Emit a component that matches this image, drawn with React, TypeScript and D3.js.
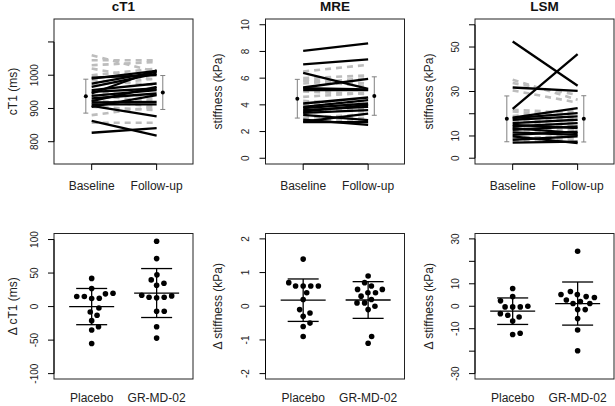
import * as d3 from 'd3'

const FONT = '"Liberation Sans", Arial, Helvetica, sans-serif'

const timepoints = ['Baseline', 'Follow-up']
const groups = ['Placebo', 'GR-MD-02']

// cT1 (ms), one entry per subject
const ct1DrugBase = [993, 990, 975, 965, 955, 950, 945, 938, 930, 922, 918, 912, 908, 863, 827, 905]
const ct1DrugFollow = [1000, 1013, 1010, 1005, 975, 960, 1015, 955, 945, 965, 920, 912, 876, 818, 841, 940]
const ct1PlcBase = [1060, 1045, 1030, 1020, 1000, 985, 970, 950, 940, 925, 915, 905, 857, 880]
const ct1PlcFollow = [1010, 1045, 1040, 985, 1020, 970, 990, 935, 920, 905, 930, 895, 857, 905]
const ct1Mean = [937, 948]
const ct1Sd = [51, 51]

// MRE stiffness (kPa)
const mreDrugBase = [8.05, 7.03, 6.4, 5.3, 5.25, 5.1, 4.1, 3.85, 3.75, 3.6, 3.4, 3.25, 2.9, 2.75, 2.7, 3.5]
const mreDrugFollow = [8.6, 7.4, 5.2, 5.95, 5.15, 5.1, 4.55, 4.35, 4.1, 3.85, 3.6, 2.85, 2.5, 3.35, 2.7, 4.0]
const mrePlcBase = [6.5, 6.0, 5.8, 5.6, 5.0, 4.6, 4.3, 4.0, 3.7, 3.4, 3.2, 3.0, 2.8, 5.9]
const mrePlcFollow = [7.0, 6.2, 5.4, 6.0, 4.8, 4.9, 4.0, 4.3, 3.5, 3.7, 3.0, 3.3, 2.9, 5.6]
const mreMean = [4.46, 4.66]
const mreSd = [1.45, 1.44]

// LSM stiffness (kPa)
const lsmDrugBase = [52.5, 22.2, 31.8, 18.3, 18, 17.3, 15.8, 15, 14.3, 13.5, 12.8, 11.6, 10.5, 9.8, 8.3, 7]
const lsmDrugFollow = [32.6, 46.8, 30.3, 22.5, 20.3, 18.8, 17.3, 13.5, 15.8, 11.3, 14.3, 10.5, 12, 6.8, 9.8, 7.5]
const lsmPlcBase = [35.3, 33.8, 21.8, 21, 19, 16, 14, 12.5, 11, 9.5, 8.5, 7.5, 17, 30.5]
const lsmPlcFollow = [26.3, 28.5, 20.3, 18.5, 21.5, 18, 16, 13, 12.5, 9, 10.5, 8.5, 14, 25]
const lsmMean = [17.7, 17.7]
const lsmSd = [10.3, 10.4]

// change from baseline
const dCt1Plc = [42, 27, 15, 15, 12, 12.4, 19, 20, -2, -8, -13, -21, -30, -35, -55]
const dCt1Drug = [97.5, 71.6, 47.3, 39.8, 34.8, 31.8, 15.9, 13.9, 13, 13.9, 17, -7, -7, -30, -47]
const dCt1Mean = [0, 20.2]
const dCt1Sd = [27, 36.5]

const dMrePlc = [1.4, 0.6, 0.6, 0.6, 0.6, 0.7, 0.4, 0.2, -0.1, -0.2, -0.3, -0.5, -0.6, -0.9]
const dMreDrug = [0.9, 0.7, 0.6, 0.5, 0.5, 0.4, 0.4, 0.3, 0.2, 0.1, 0.1, 0.0, -0.1, -0.9, -1.1]
const dMreMean = [0.18, 0.185]
const dMreSd = [0.63, 0.545]

const dLsmPlc = [7.9, 4.3, 2.4, -0.3, -0.3, -0.3, 0, -3.3, -4.0, -4.8, -6.6, -12.6, -12]
const dLsmDrug = [24.5, 5.2, 6.6, 5.2, 4.3, 3.9, 2.8, 1.2, 2.1, 1.2, -1.5, -1.5, -5.5, -10.6, -19.8]
const dLsmMean = [-2.2, 1.2]
const dLsmSd = [5.9, 9.6]

const BOX_W = 139
const COL_X = [54, 265.5, 475]
const LABEL_OFF = [-41.5, -48, -46.5]
const TOP_ROW = [19, 164]
const BOT_ROW = [233.5, 379]

function YAxis({ x0, y, ticks, labels, label, labelX }) {
  const [y1, y2] = d3.extent(ticks.map((t) => y(t)))
  const mid = (y.range()[0] + y.range()[1]) / 2
  return (
    <g>
      <line x1={x0} x2={x0} y1={y1} y2={y2} stroke="#000" />
      {ticks.map((t, i) => (
        <g key={t}>
          <line x1={x0 - 6} x2={x0} y1={y(t)} y2={y(t)} stroke="#000" />
          {labels[i] !== '' && (
            <text
              transform={`translate(${x0 - 20},${y(t)}) rotate(-90)`}
              textAnchor="middle"
              dy="0.35em"
              fontSize={10}
              fill="#222"
            >
              {labels[i]}
            </text>
          )}
        </g>
      ))}
      <text
        transform={`translate(${labelX},${mid}) rotate(-90)`}
        textAnchor="middle"
        dy="0.35em"
        fontSize={12}
        fill="#222"
      >
        {label}
      </text>
    </g>
  )
}

function PairPanel({ col, title, yLabel, domain, ticks, labels, drugBase, drugFollow, plcBase, plcFollow, mean, sd }) {
  const x0 = COL_X[col]
  const [top, bottom] = TOP_ROW
  const x = d3.scaleLinear().domain([0.42, 2.56]).range([x0, x0 + BOX_W])
  const y = d3.scaleLinear().domain(domain).range([bottom, top])
  const line = d3
    .line<number>()
    .x((_, i) => x(i + 1))
    .y((v) => y(v))
  const barX = [1 - 0.09, 2 + 0.095]

  return (
    <g>
      <text x={x0 + BOX_W / 2} y={11} textAnchor="middle" fontSize={13.5} fontWeight="bold" fill="#111">
        {title}
      </text>
      {plcBase.map((b, i) => (
        <path
          key={'p' + i}
          d={line([b, plcFollow[i]])}
          fill="none"
          stroke="#bdbdbd"
          strokeWidth={2.6}
          strokeDasharray="6 5"
        />
      ))}
      {drugBase.map((b, i) => (
        <path key={'d' + i} d={line([b, drugFollow[i]])} fill="none" stroke="#000" strokeWidth={2.3} />
      ))}
      {mean.map((m, i) => (
        <g key={'e' + i} stroke="#808080" strokeWidth={1}>
          <line x1={x(barX[i])} x2={x(barX[i])} y1={y(m - sd[i])} y2={y(m + sd[i])} />
          <line x1={x(barX[i]) - 2.5} x2={x(barX[i]) + 2.5} y1={y(m - sd[i])} y2={y(m - sd[i])} />
          <line x1={x(barX[i]) - 2.5} x2={x(barX[i]) + 2.5} y1={y(m + sd[i])} y2={y(m + sd[i])} />
          <circle cx={x(barX[i])} cy={y(m)} r={2} fill="#000" stroke="none" />
        </g>
      ))}
      <rect x={x0} y={top} width={BOX_W} height={bottom - top} fill="none" stroke="#222" />
      <YAxis x0={x0} y={y} ticks={ticks} labels={labels} label={yLabel} labelX={x0 + LABEL_OFF[col]} />
      <line x1={x(1)} x2={x(2)} y1={bottom} y2={bottom} stroke="#000" />
      {timepoints.map((t, i) => (
        <g key={t}>
          <line x1={x(i + 1)} x2={x(i + 1)} y1={bottom} y2={bottom + 6} stroke="#000" />
          <text x={x(i + 1)} y={190} textAnchor="middle" fontSize={12} fill="#222">
            {t}
          </text>
        </g>
      ))}
    </g>
  )
}

// simple swarm: place points in ascending order, nearest free horizontal slot
function swarm(values: number[], y, d: number) {
  const order = values.map((_, i) => i).sort((a, b) => values[a] - values[b])
  const placed: { x: number; y: number }[] = []
  const out = new Array(values.length).fill(0)
  for (const i of order) {
    const py = y(values[i])
    const cands = [0]
    for (const p of placed) {
      const dy = Math.abs(p.y - py)
      if (dy < d) {
        const dx = Math.sqrt(d * d - dy * dy)
        cands.push(p.x + dx, p.x - dx)
      }
    }
    cands.sort((a, b) => Math.abs(a) - Math.abs(b) || b - a)
    const ok = cands.find((c) => placed.every((p) => (p.x - c) ** 2 + (p.y - py) ** 2 >= d * d - 0.01))
    const cx = ok ?? 0
    placed.push({ x: cx, y: py })
    out[i] = cx
  }
  return out
}

function DotPanel({ col, yLabel, domain, ticks, labels, plc, drug, mean, sd }) {
  const x0 = COL_X[col]
  const [top, bottom] = BOT_ROW
  const x = d3.scaleLinear().domain([0.42, 2.56]).range([x0, x0 + BOX_W])
  const y = d3.scaleLinear().domain(domain).range([bottom, top])
  const sets = [plc, drug]

  return (
    <g>
      {sets.map((vals, g) => {
        const offs = swarm(vals, y, 7.6)
        const cx = x(g + 1)
        return (
          <g key={g}>
            {vals.map((v, i) => (
              <circle key={i} cx={cx + offs[i]} cy={y(v)} r={2.8} fill="#000" />
            ))}
            <g stroke="#000" strokeWidth={1.3}>
              <line x1={cx} x2={cx} y1={y(mean[g] - sd[g])} y2={y(mean[g] + sd[g])} />
              <line x1={cx - 22.5} x2={cx + 22.5} y1={y(mean[g])} y2={y(mean[g])} />
              <line x1={cx - 15.5} x2={cx + 15.5} y1={y(mean[g] + sd[g])} y2={y(mean[g] + sd[g])} />
              <line x1={cx - 15.5} x2={cx + 15.5} y1={y(mean[g] - sd[g])} y2={y(mean[g] - sd[g])} />
            </g>
          </g>
        )
      })}
      <rect x={x0} y={top} width={BOX_W} height={bottom - top} fill="none" stroke="#222" />
      <YAxis x0={x0} y={y} ticks={ticks} labels={labels} label={yLabel} labelX={x0 + LABEL_OFF[col]} />
      {groups.map((t, i) => (
        <text key={t} x={x(i + 1)} y={401.5} textAnchor="middle" fontSize={12} fill="#222">
          {t}
        </text>
      ))}
    </g>
  )
}

export default function App() {
  return (
    <svg
      width={615}
      height={406}
      style={{ position: 'fixed', left: 0, top: 0, background: '#fff', fontFamily: FONT }}
    >
      <rect width={615} height={406} fill="#fff" />
      <PairPanel
        col={0}
        title="cT1"
        yLabel="cT1 (ms)"
        domain={[733, 1169]}
        ticks={[800, 900, 1000, 1100]}
        labels={['800', '900', '1000', '']}
        drugBase={ct1DrugBase}
        drugFollow={ct1DrugFollow}
        plcBase={ct1PlcBase}
        plcFollow={ct1PlcFollow}
        mean={ct1Mean}
        sd={ct1Sd}
      />
      <PairPanel
        col={1}
        title="MRE"
        yLabel="stiffness (kPa)"
        domain={[-0.43, 10.43]}
        ticks={[0, 2, 4, 6, 8, 10]}
        labels={['0', '2', '4', '6', '8', '10']}
        drugBase={mreDrugBase}
        drugFollow={mreDrugFollow}
        plcBase={mrePlcBase}
        plcFollow={mrePlcFollow}
        mean={mreMean}
        sd={mreSd}
      />
      <PairPanel
        col={2}
        title="LSM"
        yLabel="stiffness (kPa)"
        domain={[-2.6, 62.6]}
        ticks={[0, 10, 20, 30, 40, 50, 60]}
        labels={['0', '10', '', '30', '', '50', '']}
        drugBase={lsmDrugBase}
        drugFollow={lsmDrugFollow}
        plcBase={lsmPlcBase}
        plcFollow={lsmPlcFollow}
        mean={lsmMean}
        sd={lsmSd}
      />
      <DotPanel
        col={0}
        yLabel="Δ cT1 (ms)"
        domain={[-108, 109]}
        ticks={[-100, -50, 0, 50, 100]}
        labels={['-100', '-50', '0', '50', '100']}
        plc={dCt1Plc}
        drug={dCt1Drug}
        mean={dCt1Mean}
        sd={dCt1Sd}
      />
      <DotPanel
        col={1}
        yLabel="Δ stiffness (kPa)"
        domain={[-2.16, 2.16]}
        ticks={[-2, -1, 0, 1, 2]}
        labels={['-2', '-1', '0', '1', '2']}
        plc={dMrePlc}
        drug={dMreDrug}
        mean={dMreMean}
        sd={dMreSd}
      />
      <DotPanel
        col={2}
        yLabel="Δ stiffness (kPa)"
        domain={[-32.4, 32.4]}
        ticks={[-30, -20, -10, 0, 10, 20, 30]}
        labels={['-30', '', '-10', '0', '10', '', '30']}
        plc={dLsmPlc}
        drug={dLsmDrug}
        mean={dLsmMean}
        sd={dLsmSd}
      />
    </svg>
  )
}
